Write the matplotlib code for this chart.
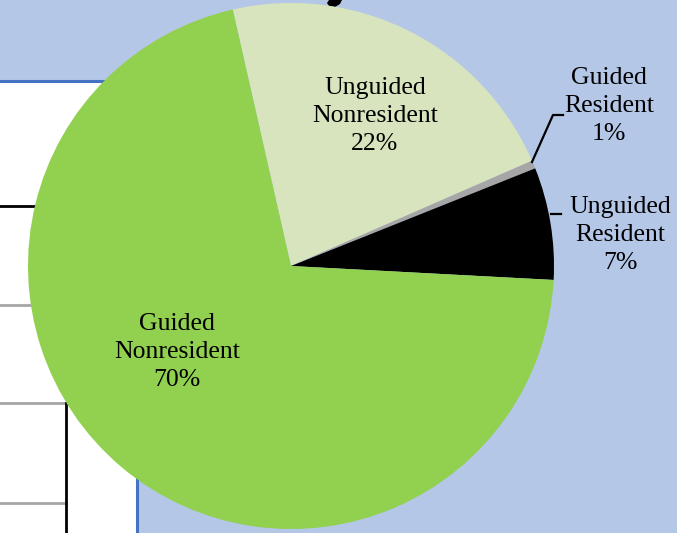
#! /usr/bin/env python3

import matplotlib.pyplot as plt

# pie data (clockwise from the top-left boundary)
categories = ['Unguided\nNonresident', 'Guided\nResident', 'Unguided\nResident', 'Guided\nNonresident']
shares = [22.0, 0.5, 6.9, 70.6]
pct_labels = ['22%', '1%', '7%', '70%']
colors = ['#D7E4BD', '#A6A6A6', '#000000', '#92D050']

W, H = 677, 533
fig = plt.figure(figsize=(W/100, H/100), dpi=100)
fig.patch.set_facecolor('#B4C7E7')
ax = fig.add_axes([0, 0, 1, 1])
ax.set_axis_off()

def py(y):
    # pixel row -> data y
    return H - y

# white table area behind the pie
ax.add_patch(plt.Rectangle((0, 0), 137, py(81), facecolor='white', edgecolor='none', zorder=0))
ax.plot([0, 137], [py(81), py(81)], color='#4472C4', lw=2.2, zorder=1)
ax.plot([137, 137], [py(81), 0], color='#4472C4', lw=2.2, zorder=1)
ax.plot([0, 100], [py(206), py(206)], color='black', lw=2, zorder=1)
ax.plot([0, 100], [py(305), py(305)], color='#A6A6A6', lw=2, zorder=1)
ax.plot([0, 66], [py(403), py(403)], color='#A6A6A6', lw=2, zorder=1)
ax.plot([0, 66], [py(503), py(503)], color='#A6A6A6', lw=2, zorder=1)
ax.plot([66, 66], [py(403), 0], color='black', lw=2, zorder=1)

# bit of the cut-off title glyph at the top
ax.add_patch(plt.Polygon([(329, py(0)), (342, py(0)), (340, py(4)), (335, py(7)),
                          (329, py(6)), (327, py(3))], facecolor='black', edgecolor='none', zorder=1))

cx, cy, r = 291, py(266), 263
ax.pie(shares, colors=colors, startangle=102.8, counterclock=False,
       center=(cx, cy), radius=r, frame=True,
       wedgeprops=dict(linewidth=0, zorder=2))
ax.set_xlim(0, W)
ax.set_ylim(0, H)
ax.set_aspect('auto')
ax.set_axis_off()

label_pos = [(375, 116), (609, 106), (620, 235), (177, 352)]
for (x, y), cat, pct in zip(label_pos, categories, pct_labels):
    ax.text(x, py(y), cat + '\n' + pct, ha='center', va='center',
            fontsize=18.5, family='Liberation Serif', linespacing=1.36, zorder=3)

# leader lines
ax.plot([532, 553, 563], [py(162), py(115), py(115)], color='black', lw=1.6, zorder=3)
ax.plot([551, 561], [py(214), py(214)], color='black', lw=1.6, zorder=3)

plt.savefig('out.png', dpi=100, facecolor=fig.get_facecolor())
